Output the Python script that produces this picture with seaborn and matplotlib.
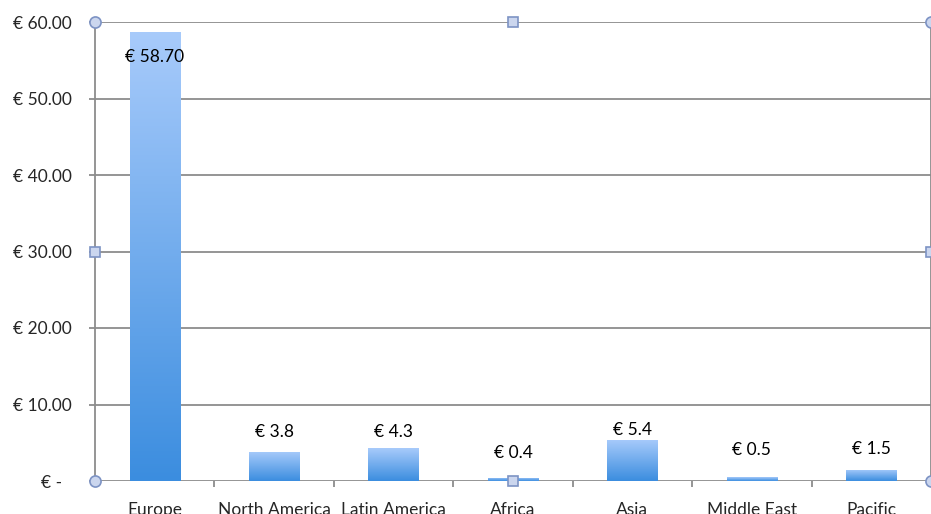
import numpy as np
import pandas as pd
import matplotlib
matplotlib.use("Agg")
import matplotlib.pyplot as plt
from matplotlib.colors import LinearSegmentedColormap
import seaborn as sns

# Revenue per region (EUR)
regions = ["Europe", "North America", "Latin America", "Africa", "Asia", "Middle East", "Pacific"]
values = [58.70, 3.8, 4.3, 0.4, 5.4, 0.5, 1.5]
value_labels = ["€ 58.70", "€ 3.8", "€ 4.3", "€ 0.4", "€ 5.4", "€ 0.5", "€ 1.5"]
# vertical offset of each value label from its bar top, in pixels
label_offsets = [-25, 20, 16, 25, 10, 27, 21]
y_ticks = [0, 10, 20, 30, 40, 50, 60]
y_tick_labels = ["€ -  ", "€ 10.00", "€ 20.00", "€ 30.00", "€ 40.00", "€ 50.00", "€ 60.00"]

df = pd.DataFrame({"region": regions, "value": values})

sns.set_theme(style="white")
plt.rcParams["font.family"] = ["Lato", "DejaVu Sans"]

W, H, DPI = 931, 514, 100
FS = 12.5
fig = plt.figure(figsize=(W / DPI, H / DPI), dpi=DPI)
ax = fig.add_axes([95 / W, 1 - 481 / H, 836 / W, (481 - 22) / H])

sns.barplot(data=df, x="region", y="value", ax=ax, width=0.42,
            color="#5a9be6", saturation=1, errorbar=None, zorder=3)

ax.set_xlim(-0.5, len(regions) - 0.5)
ax.set_ylim(0, 60)

# vertical gradient fill for each bar, light at the top, deeper blue at the base
cmap = LinearSegmentedColormap.from_list("barfill", ["#3b8ddf", "#a8cbfb"])
grad = np.linspace(0, 1, 256).reshape(-1, 1)
for patch in ax.patches:
    x0, y0 = patch.get_x(), patch.get_y()
    w, h = patch.get_width(), patch.get_height()
    patch.set_facecolor("none")
    patch.set_edgecolor("none")
    im = ax.imshow(grad, cmap=cmap, origin="lower", aspect="auto",
                   extent=(x0, x0 + w, y0, y0 + h), zorder=3, interpolation="bicubic")
    im.set_clip_path(patch)
ax.set_xlim(-0.5, len(regions) - 0.5)
ax.set_ylim(0, 60)

# value labels
for i, (v, lab, off) in enumerate(zip(values, value_labels, label_offsets)):
    ax.annotate(lab, xy=(i, v), xytext=(0, off * 72 / DPI), textcoords="offset points",
                ha="center", va="center", fontsize=FS, color="black", zorder=5)

# gridlines and frame
grid_col = "#8c8c8c"
for t in y_ticks:
    ax.axhline(t, color=grid_col, lw=1.3, zorder=1)
for side in ["top", "bottom"]:
    ax.spines[side].set_visible(False)
ax.spines["left"].set_color(grid_col)
ax.spines["left"].set_linewidth(1.3)
ax.spines["right"].set_color(grid_col)
ax.spines["right"].set_linewidth(1.3)

ax.set_yticks(y_ticks)
ax.set_yticklabels(y_tick_labels, fontsize=FS)
ax.tick_params(axis="y", left=True, length=4, width=1.3, color=grid_col, pad=13)

ax.set_xticks(range(len(regions)))
ax.set_xticklabels(regions, fontsize=FS)
ax.tick_params(axis="x", bottom=False, pad=9)
ax.set_xticks(np.arange(0.5, len(regions) - 1, 1), minor=True)
ax.tick_params(axis="x", which="minor", bottom=True, length=4, width=1.3, color=grid_col)
ax.set_xlabel("")
ax.set_ylabel("")

# selection handles around the plot area
hfill, hedge = "#cbd6ee", "#7d93c4"
for (hx, hy) in [(0, 0), (0, 1), (1, 0), (1, 1)]:
    ax.plot(hx, hy, marker="o", ms=8, mfc=hfill, mec=hedge, mew=1.2,
            transform=ax.transAxes, clip_on=False, zorder=6)
for (hx, hy) in [(0.5, 0), (0.5, 1), (0, 0.5), (1, 0.5)]:
    ax.plot(hx, hy, marker="s", ms=7, mfc=hfill, mec=hedge, mew=1.2,
            transform=ax.transAxes, clip_on=False, zorder=6)

fig.savefig("out.png", dpi=DPI, facecolor="white")
